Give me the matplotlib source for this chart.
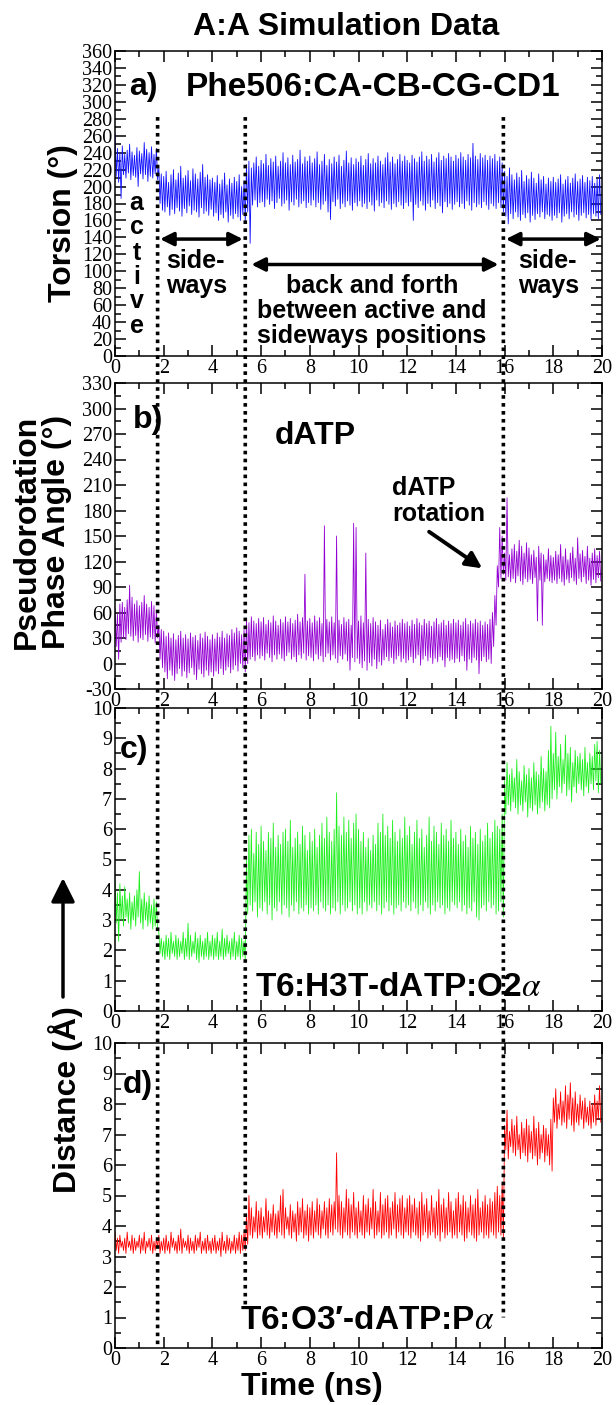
import numpy as np
import matplotlib.pyplot as plt
from matplotlib.patches import ConnectionPatch

plt.rcParams['font.family'] = ['Liberation Serif', 'DejaVu Serif']
plt.rcParams['mathtext.fontset'] = 'stix'

# sampled every 0.1 ns: upper and lower edge of each noisy trace
step = 0.1

torsion_hi = [
    262, 245, 240, 248, 238, 243, 250, 241, 237, 246, 242, 239, 252, 244, 240, 247, 238, 245, 222, 215,
    212, 218, 205, 214, 220, 208, 216, 224, 210, 213, 219, 207, 221, 215, 209, 217, 226, 211, 214, 208,
    210, 205, 213, 203, 208, 216, 202, 209, 204, 211, 206, 214, 200, 207, 226, 230, 222, 228, 235, 224,
    231, 227, 238, 225, 233, 229, 236, 224, 230, 240, 228, 234, 226, 237, 229, 232, 243, 227, 235, 230,
    236, 228, 233, 241, 226, 230, 238, 225, 232, 227, 235, 229, 237, 224, 231, 242, 228, 234, 226, 233,
    229, 236, 225, 232, 239, 227, 233, 228, 236, 230, 226, 234, 240, 229, 235, 227, 232, 238, 230, 236,
    231, 228, 237, 233, 229, 235, 241, 230, 236, 232, 238, 229, 234, 240, 231, 236, 233, 239, 235, 230,
    237, 233, 240, 235, 231, 238, 234, 251, 236, 232, 239, 234, 237, 231, 236, 233, 238, 230, 235, 228,
    218, 212, 222, 214, 208, 216, 211, 219, 206, 213, 209, 217, 210, 204, 215, 208, 212, 203, 210, 206,
    211, 205, 209, 214, 203, 208, 212, 204, 210, 215, 206, 209, 213, 205, 211, 207, 212, 204, 209, 214]
torsion_lo = [
    212, 205, 186, 214, 210, 216, 208, 213, 211, 200, 215, 209, 214, 206, 212, 210, 215, 208, 180, 172,
    170, 176, 166, 173, 168, 175, 171, 165, 174, 169, 177, 167, 172, 170, 164, 175, 168, 171, 166, 173,
    165, 169, 160, 167, 163, 170, 158, 166, 162, 168, 164, 160, 167, 159, 170, 133, 178, 184, 176, 181,
    182, 176, 185, 179, 183, 174, 181, 186, 177, 180, 184, 172, 182, 178, 185, 176, 180, 183, 175, 181,
    178, 184, 176, 181, 173, 179, 183, 170, 161, 182, 177, 185, 174, 180, 176, 183, 178, 172, 181, 177,
    183, 176, 180, 174, 182, 178, 171, 184, 177, 181, 175, 183, 179, 173, 180, 176, 182, 178, 174, 181,
    177, 182, 160, 179, 175, 183, 178, 172, 180, 176, 184, 174, 181, 177, 169, 182, 176, 180, 173, 179,
    182, 176, 180, 174, 183, 178, 172, 181, 176, 179, 175, 182, 178, 173, 180, 177, 174, 181, 175, 170,
    165, 156, 168, 162, 170, 164, 160, 167, 163, 169, 158, 166, 161, 168, 164, 170, 162, 167, 165, 160,
    166, 163, 169, 158, 165, 168, 162, 170, 164, 167, 160, 166, 169, 163, 167, 161, 168, 165, 162, 167]

phase_hi = [
    65, 58, 70, 72, 66, 75, 92, 78, 70, 74, 68, 72, 80, 70, 66, 73, 68, 62, 45, 40,
    38, 32, 36, 30, 35, 28, 33, 38, 30, 34, 29, 36, 31, 33, 27, 35, 30, 37, 32, 28,
    34, 29, 36, 31, 38, 30, 35, 33, 40, 36, 42, 38, 34, 40, 52, 48, 55, 50, 47, 53,
    49, 54, 46, 51, 48, 56, 50, 45, 52, 48, 55, 49, 53, 47, 51, 58, 49, 54, 105, 50,
    53, 48, 56, 50, 54, 47, 162, 52, 49, 55, 48, 150, 51, 46, 54, 49, 52, 45, 165, 160,
    50, 56, 48, 130, 52, 47, 54, 49, 45, 51, 40, 46, 52, 48, 43, 50, 45, 48, 52, 47,
    49, 44, 51, 46, 53, 48, 45, 52, 47, 50, 44, 49, 53, 46, 48, 51, 45, 50, 47, 52,
    48, 51, 45, 49, 53, 46, 50, 47, 52, 48, 50, 45, 49, 46, 52, 60, 80, 115, 160, 150,
    130, 195, 128, 135, 140, 132, 145, 138, 130, 142, 136, 128, 133, 125, 138, 130, 128, 122, 135, 127,
    125, 132, 128, 140, 126, 135, 122, 130, 137, 124, 148, 129, 133, 126, 138, 124, 130, 135, 127, 132]
phase_lo = [
    20, 5, 25, 30, 28, 35, 32, 27, 33, 25, 30, 28, 34, 26, 31, 29, 24, 30, 5, -5,
    -10, -18, -8, -14, -20, -12, -6, -15, -9, -17, -11, -5, -13, -19, -7, -12, -16, -8, -14, -10,
    -15, -9, -12, -6, -13, -8, -4, -11, -7, -2, -9, 0, -5, -10, 0, 5, 8, 3, 10, 6,
    9, 4, 12, 7, 2, 10, 5, 11, 6, 3, 9, 13, 5, 8, 2, 10, 6, 12, 4, 9,
    7, 3, 11, 5, 9, 2, 8, 12, 4, 10, 6, 1, 9, 5, 11, 3, -8, 7, 2, 6,
    0, -5, 3, -8, 1, -3, 5, -6, 2, -2, 4, 8, 3, 7, 0, 5, 9, 2, 6, 1,
    4, 8, 1, 6, 10, -2, 5, 9, 3, 7, 0, 6, 2, 8, 4, -4, 7, 3, 5, 1,
    6, 2, 9, 3, -8, 5, 1, 7, 4, -12, 3, 8, 2, 5, 0, 20, 45, 90, 100, 105,
    98, 102, 96, 100, 95, 103, 97, 93, 100, 96, 99, 94, 101, 50, 98, 45, 96, 100, 97, 95,
    98, 94, 100, 96, 92, 99, 95, 101, 97, 93, 100, 96, 102, 94, 98, 92, 99, 95, 101, 97]

h3t_hi = [
    4.3, 3.9, 4.2, 3.8, 4.1, 3.7, 3.9, 3.6, 3.8, 4.0, 4.6, 3.7, 3.9, 3.6, 3.8, 3.5, 3.7, 3.6, 2.6, 2.4,
    2.3, 2.5, 2.4, 2.6, 2.3, 2.5, 2.4, 2.3, 2.6, 2.4, 2.9, 2.5, 2.3, 2.6, 2.4, 2.5, 2.3, 2.4, 2.6, 2.3,
    2.5, 2.4, 2.6, 2.3, 2.7, 2.4, 2.5, 2.3, 2.4, 2.6, 2.3, 2.5, 2.4, 2.3, 5.0, 5.8, 6.0, 5.2, 5.9, 5.5,
    6.1, 5.6, 5.3, 5.9, 5.7, 6.2, 5.4, 5.8, 5.5, 5.9, 6.0, 5.6, 6.3, 5.4, 5.7, 5.9, 5.5, 6.1, 5.8, 5.3,
    5.9, 5.6, 6.0, 5.4, 5.8, 6.2, 5.7, 6.4, 5.9, 5.6, 6.0, 7.2, 6.1, 5.8, 6.4, 5.9, 6.3, 5.7, 6.2, 6.5,
    6.0, 5.6, 5.9, 5.4, 5.7, 5.3, 5.8, 5.5, 6.2, 5.9, 6.5, 5.8, 6.1, 5.7, 6.3, 5.9, 5.6, 6.0, 5.7, 6.4,
    5.8, 6.1, 5.5, 5.9, 6.3, 5.7, 6.0, 5.4, 5.8, 6.4, 5.6, 6.1, 5.9, 5.5, 6.2, 5.8, 6.0, 5.6, 6.3, 5.7,
    5.9, 5.5, 6.0, 5.6, 5.8, 5.4, 6.1, 5.7, 5.9, 5.5, 6.0, 5.6, 5.8, 6.2, 5.7, 5.9, 6.3, 6.1, 6.0, 6.5,
    7.6, 8.2, 7.8, 8.0, 7.7, 8.3, 7.9, 7.6, 8.1, 7.8, 8.0, 7.7, 8.2, 7.9, 7.8, 8.4, 8.0, 7.9, 8.6, 9.4,
    8.5, 9.2, 8.4, 8.8, 8.3, 9.1, 8.5, 8.7, 8.2, 8.6, 8.4, 8.5, 8.3, 8.7, 8.2, 8.5, 8.4, 8.8, 8.9, 8.6]
h3t_lo = [
    2.9, 2.3, 3.0, 2.8, 3.1, 2.9, 2.7, 3.0, 2.8, 3.1, 2.9, 2.7, 3.0, 2.8, 2.9, 2.7, 2.8, 2.7, 1.9, 1.8,
    1.7, 1.8, 1.7, 1.9, 1.8, 1.7, 1.8, 1.9, 1.7, 1.8, 1.7, 1.8, 1.9, 1.7, 1.6, 1.8, 1.7, 1.8, 1.7, 1.8,
    1.7, 1.8, 1.7, 1.8, 1.7, 1.8, 1.9, 1.7, 1.8, 1.7, 1.8, 1.7, 1.8, 1.7, 3.2, 3.5, 3.3, 3.6, 3.1, 3.4,
    3.3, 3.6, 3.2, 3.5, 3.0, 3.4, 3.3, 3.6, 3.2, 3.5, 3.4, 3.1, 3.5, 3.3, 3.6, 3.2, 3.4, 3.3, 3.5, 3.2,
    3.4, 3.3, 3.5, 3.2, 3.6, 3.4, 3.3, 3.5, 3.2, 3.4, 3.3, 3.6, 3.2, 3.5, 3.3, 3.4, 3.6, 3.3, 3.5, 3.2,
    3.4, 3.2, 3.6, 3.3, 3.5, 3.4, 3.6, 3.3, 3.5, 3.2, 3.4, 3.6, 3.3, 3.5, 3.2, 3.4, 3.5, 3.3, 3.6, 3.4,
    3.5, 3.3, 3.6, 3.4, 3.2, 3.5, 3.3, 3.6, 3.4, 3.2, 3.5, 3.3, 3.6, 3.4, 3.5, 3.2, 3.4, 3.3, 3.6, 3.5,
    3.4, 3.6, 3.3, 3.5, 3.2, 3.4, 3.3, 3.6, 3.1, 3.0, 3.4, 3.5, 3.3, 3.6, 3.4, 3.5, 3.2, 3.3, 3.6, 3.1,
    6.5, 6.8, 6.6, 6.9, 6.7, 6.5, 6.8, 6.6, 6.9, 6.4, 6.7, 6.6, 6.8, 6.5, 6.7, 6.9, 6.6, 6.8, 6.7, 7.0,
    7.3, 7.0, 7.4, 7.2, 7.5, 7.1, 7.3, 6.9, 7.4, 7.2, 7.5, 7.3, 7.1, 7.4, 7.2, 7.5, 7.3, 7.6, 7.2, 7.5]

o3_hi = [
    3.8, 3.6, 3.7, 3.5, 3.6, 3.8, 3.5, 3.7, 3.6, 3.5, 3.7, 3.6, 3.8, 3.5, 3.6, 3.7, 3.5, 3.6, 3.7, 3.5,
    3.6, 3.7, 3.5, 3.8, 3.6, 3.5, 3.7, 3.9, 3.6, 3.5, 3.7, 3.6, 3.5, 3.7, 3.6, 3.8, 3.5, 3.6, 3.7, 3.5,
    3.6, 3.7, 3.5, 3.6, 3.8, 3.5, 3.7, 3.6, 3.5, 3.7, 3.6, 3.8, 3.7, 3.8, 4.4, 5.0, 4.6, 4.3, 4.8, 4.5,
    4.6, 4.3, 4.9, 4.5, 4.4, 4.7, 4.4, 4.5, 5.0, 5.2, 4.6, 4.3, 4.7, 4.5, 4.4, 4.8, 4.6, 4.9, 4.5, 4.7,
    4.6, 4.8, 4.5, 4.9, 4.7, 4.5, 4.8, 4.6, 4.9, 4.7, 4.8, 6.4, 5.0, 4.8, 4.6, 5.2, 4.9, 4.7, 5.1, 4.6,
    4.8, 4.5, 5.0, 4.7, 4.9, 4.6, 5.2, 4.8, 4.5, 5.1, 4.7, 4.9, 5.0, 4.6, 4.8, 5.1, 4.7, 4.9, 5.0, 4.6,
    4.9, 5.0, 4.7, 4.9, 4.6, 4.8, 5.1, 4.7, 4.9, 4.5, 5.0, 4.6, 4.8, 5.2, 4.7, 4.9, 4.6, 5.1, 4.8, 4.5,
    4.9, 5.1, 4.7, 5.0, 4.8, 4.6, 5.0, 4.7, 4.9, 5.2, 4.6, 4.8, 5.0, 4.7, 4.9, 4.8, 5.1, 5.3, 5.0, 5.4,
    7.3, 7.8, 7.1, 7.5, 7.3, 7.6, 7.0, 7.4, 7.2, 7.5, 7.3, 7.1, 7.6, 7.2, 7.4, 7.0, 7.3, 7.2, 7.0, 7.5,
    8.2, 8.5, 8.0, 8.4, 8.1, 8.6, 8.3, 8.7, 8.2, 8.4, 8.0, 8.3, 8.1, 8.2, 7.9, 8.1, 8.0, 8.3, 8.1, 8.6]
o3_lo = [
    3.2, 3.1, 3.3, 3.2, 3.1, 3.3, 3.2, 3.1, 3.2, 3.3, 3.1, 3.2, 3.1, 3.3, 3.2, 3.1, 3.2, 3.3, 3.1, 3.2,
    3.1, 3.2, 3.1, 3.3, 3.2, 3.1, 3.2, 3.1, 3.3, 3.2, 3.1, 3.2, 3.1, 3.2, 3.3, 3.1, 3.2, 3.1, 3.2, 3.1,
    3.2, 3.1, 3.2, 3.0, 3.2, 3.1, 3.2, 3.1, 3.2, 3.1, 3.2, 3.1, 3.2, 3.2, 3.4, 3.7, 3.6, 3.8, 3.6, 3.7,
    3.6, 3.8, 3.7, 3.6, 3.8, 3.7, 3.6, 3.8, 3.7, 3.6, 3.9, 3.7, 3.6, 3.8, 3.5, 3.7, 3.8, 3.6, 3.7, 3.5,
    3.7, 3.6, 3.8, 3.7, 3.6, 3.9, 3.7, 3.6, 3.8, 3.7, 3.9, 3.8, 3.7, 3.6, 3.8, 3.7, 3.6, 3.8, 3.7, 3.6,
    3.8, 3.7, 3.6, 3.8, 3.7, 3.9, 3.6, 3.7, 3.8, 3.6, 3.7, 3.8, 3.6, 3.7, 3.9, 3.6, 3.8, 3.7, 3.6, 3.8,
    3.7, 3.6, 3.8, 3.7, 3.6, 3.5, 3.7, 3.8, 3.6, 3.7, 3.8, 3.6, 3.7, 3.5, 3.8, 3.6, 3.7, 3.8, 3.6, 3.7,
    3.6, 3.8, 3.7, 3.5, 3.6, 3.8, 3.7, 3.6, 3.5, 3.7, 3.8, 3.6, 3.7, 3.6, 3.8, 3.7, 3.6, 3.8, 3.7, 3.6,
    6.5, 6.2, 6.6, 6.4, 6.3, 6.5, 6.2, 6.4, 6.3, 6.1, 6.4, 6.2, 6.3, 6.0, 6.2, 6.4, 6.1, 6.3, 6.0, 5.8,
    7.4, 7.2, 7.5, 7.3, 7.4, 7.2, 7.5, 7.3, 7.1, 7.4, 7.3, 7.5, 7.2, 7.4, 7.3, 7.2, 7.4, 7.3, 7.5, 7.4]

# state boundaries (ns)
boundaries = [1.75, 5.35, 15.95]


def trace(hi, lo):
    t = np.arange(len(hi)) * step
    x = np.column_stack([t, t + step / 2]).ravel()
    y = np.column_stack([hi, lo]).ravel()
    return x, y


W, H = 616, 1405
fig = plt.figure(figsize=(W / 100, H / 100), dpi=100)

# pixel boxes (top, bottom) of the four panels
boxes = [(51, 356), (383, 689), (708, 1011), (1043, 1348)]
axes = []
for top, bot in boxes:
    ax = fig.add_axes([115 / W, 1 - bot / H, 487 / W, (bot - top) / H])
    axes.append(ax)

panels = [
    (torsion_hi, torsion_lo, '#1010ff', (0, 360), 20, 10),
    (phase_hi, phase_lo, '#9400d3', (-30, 330), 30, 15),
    (h3t_hi, h3t_lo, '#1ef01e', (0, 10), 1, 0.5),
    (o3_hi, o3_lo, '#ff0000', (0, 10), 1, 0.5),
]

for ax, (hi, lo, col, ylim, maj, mnr) in zip(axes, panels):
    x, y = trace(hi, lo)
    ax.plot(x, y, color=col, lw=0.6)
    ax.set_xlim(0, 20)
    ax.set_ylim(*ylim)
    ax.set_xticks(np.arange(0, 21, 2))
    ax.set_xticks(np.arange(0, 21, 1), minor=True)
    ax.set_yticks(np.arange(ylim[0], ylim[1] + 0.01, maj))
    ax.set_yticks(np.arange(ylim[0], ylim[1] + 0.01, mnr), minor=True)
    ax.yaxis.set_major_formatter(plt.FuncFormatter(lambda v, p: '%g' % v))
    ax.tick_params(which='both', direction='in', top=True, right=True,
                   labelsize=14.5, width=1.1, pad=2)
    ax.tick_params(which='major', length=8)
    ax.tick_params(which='minor', length=4)
    for s in ax.spines.values():
        s.set_linewidth(1.1)

axA, axB, axC, axD = axes
bold = dict(family=['Liberation Sans', 'DejaVu Sans'], weight='bold')

# dotted boundary lines running through all panels
for xb, yend in zip(boundaries, [0.0, 1.4, 1.0]):
    con = ConnectionPatch(xyA=(xb, 282), coordsA=axA.transData,
                          xyB=(xb, yend), coordsB=axD.transData,
                          color='k', lw=2.6, linestyle=(0, (1, 1.2)),
                          capstyle='butt')
    fig.add_artist(con)

# panel a annotations
axA.text(0.6, 317, 'a)', fontsize=23, va='center', **bold)
axA.text(2.9, 317, 'Phe506:CA-CB-CG-CD1', fontsize=24, va='center', **bold)
for ch, yv in zip('active', [181, 152, 122, 93, 65, 35]):
    axA.text(0.89, yv, ch, fontsize=18, ha='center', va='center', **bold)
for xl in [2.1, 16.55]:
    axA.text(xl, 112, 'side-', fontsize=18, va='center', **bold)
    axA.text(xl, 83, 'ways', fontsize=18, va='center', **bold)
for line, yv in zip(['back and forth', 'between active and', 'sideways positions'],
                    [83, 53, 24]):
    axA.text(10.55, yv, line, fontsize=18, ha='center', va='center', **bold)
arrow2 = dict(arrowstyle='<|-|>', color='k', lw=2.5, mutation_scale=20,
              shrinkA=0, shrinkB=0)
axA.annotate('', xy=(5.25, 138), xytext=(1.85, 138), arrowprops=arrow2)
axA.annotate('', xy=(15.75, 108), xytext=(5.6, 108), arrowprops=arrow2)
axA.annotate('', xy=(19.95, 138), xytext=(16.05, 138), arrowprops=arrow2)

# panel b annotations
axB.text(0.73, 286, 'b)', fontsize=23, va='center', **bold)
axB.text(8.23, 268, 'dATP', fontsize=23, ha='center', va='center', **bold)
axB.text(11.37, 206, 'dATP', fontsize=18, va='center', **bold)
axB.text(11.37, 176, 'rotation', fontsize=18, va='center', **bold)
axB.annotate('', xy=(15.08, 112), xytext=(12.9, 155),
             arrowprops=dict(arrowstyle='-|>', color='k', lw=2.8,
                             mutation_scale=24, shrinkA=0, shrinkB=0))

# panel c / d annotations
axC.text(0.2, 8.62, 'c)', fontsize=23, va='center', **bold)
axC.text(5.73, 0.79, r'T6:H3T-dATP:O2$\alpha$', fontsize=24, va='center', **bold)
axD.text(0.32, 8.62, 'd)', fontsize=23, va='center', **bold)
axD.text(5.15, 0.89, 'T6:O3\u2032-dATP:P$\\alpha$', fontsize=24, va='center', **bold)

# titles and axis labels
fig.text(346 / W, 1 - 27 / H, 'A:A Simulation Data', fontsize=23,
         ha='center', va='center', **bold)
fig.text(63 / W, 1 - 223 / H, 'Torsion (\u00b0)', fontsize=23, rotation=90,
         ha='center', va='center', **bold)
fig.text(42 / W, 1 - 532 / H, 'Pseudorotation\nPhase Angle (\u00b0)', fontsize=23,
         rotation=90, ha='center', va='center', multialignment='center',
         linespacing=1.0, **bold)
fig.text(66 / W, 1 - 1100 / H, 'Distance (\u00c5)', fontsize=23, rotation=90,
         ha='center', va='center', **bold)
fig.text(312 / W, 1 - 1387 / H, 'Time (ns)', fontsize=23,
         ha='center', va='center', **bold)
fig.add_artist(plt.Annotation(
    '', xy=(63 / W, 1 - 878 / H), xytext=(63 / W, 1 - 997 / H),
    xycoords='figure fraction', textcoords='figure fraction',
    arrowprops=dict(arrowstyle='-|>,head_length=0.6,head_width=0.3',
                    color='k', lw=2.5, mutation_scale=24, shrinkA=0, shrinkB=0)))

fig.savefig('out.png', dpi=100)
